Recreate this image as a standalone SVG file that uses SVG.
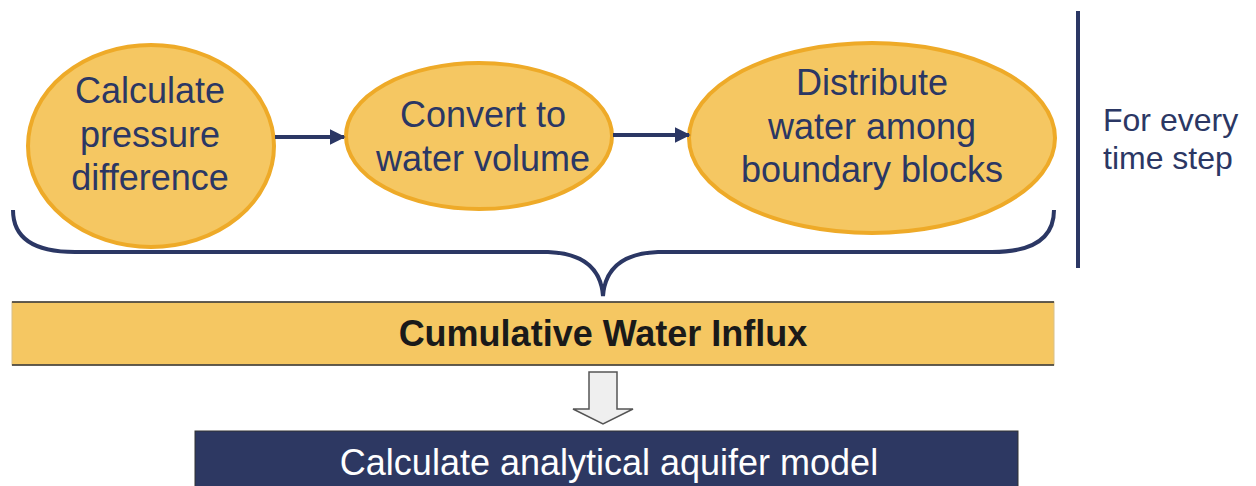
<svg xmlns="http://www.w3.org/2000/svg" width="1256" height="486" viewBox="0 0 1256 486">
<style>
.node{fill:#F5C762;stroke:#EEAA28;stroke-width:4}
.t{font-family:"Liberation Sans",Arial,sans-serif;font-size:36px;fill:#2B3764;text-anchor:middle}
.conn{stroke:#2B3764;stroke-width:4;fill:none}
</style>
<defs>
<marker id="ah" viewBox="0 0 10 10" refX="9" refY="5" markerWidth="4" markerHeight="4" orient="auto" markerUnits="strokeWidth">
<path d="M0,0 L10,5 L0,10 z" fill="#2B3764"/>
</marker>
</defs>
<rect width="1256" height="486" fill="#fff"/>
<g id="n1">
<ellipse class="node" cx="151" cy="146" rx="123" ry="101"/>
<text class="t" x="150" y="103">Calculate</text>
<text class="t" x="150" y="147">pressure</text>
<text class="t" x="150" y="190">difference</text>
</g>
<g id="n2">
<ellipse class="node" cx="479" cy="136" rx="133" ry="73"/>
<text class="t" x="483" y="127">Convert to</text>
<text class="t" x="483" y="171">water volume</text>
</g>
<g id="n3">
<ellipse class="node" cx="872" cy="138" rx="183" ry="95"/>
<text class="t" x="872" y="95">Distribute</text>
<text class="t" x="872" y="139">water among</text>
<text class="t" x="872" y="182">boundary blocks</text>
</g>
<g id="connectors">
<line class="conn" x1="275" y1="137" x2="344" y2="137" stroke-width="3" marker-end="url(#ah)"/>
<line class="conn" x1="613" y1="135" x2="689" y2="135" stroke-width="3" marker-end="url(#ah)"/>
<path class="conn" stroke-width="3.5" d="M13,210 Q13,252 75,252 L548,252 Q600,254 603,296 Q606,254 658,252 L992,252 Q1054,252 1054,210"/>
<path d="M589,372 L617,372 L617,409 L633,409 L603,424 L573,409 L589,409 Z" fill="#EFEFEF" stroke="#555" stroke-width="1.5"/>
</g>
<g id="loop">
<line x1="1078" y1="11" x2="1078" y2="268" stroke="#2B3764" stroke-width="4"/>
<text x="1103" y="131" font-family="Liberation Sans,Arial,sans-serif" font-size="32" fill="#2B3764">For every</text>
<text x="1103" y="169" font-family="Liberation Sans,Arial,sans-serif" font-size="32" fill="#2B3764">time step</text>
</g>
<g id="influx">
<rect x="12" y="302" width="1042" height="63" fill="#F5C762" stroke="#d8c08a" stroke-width="1"/>
<line x1="12" y1="302" x2="1054" y2="302" stroke="#333" stroke-width="1.5"/>
<line x1="12" y1="365" x2="1054" y2="365" stroke="#333" stroke-width="1.5"/>
<text x="603" y="346" font-family="Liberation Sans,Arial,sans-serif" font-size="36" font-weight="bold" fill="#1a1a1a" text-anchor="middle">Cumulative Water Influx</text>
</g>
<g id="model">
<rect x="195" y="431" width="823" height="60" fill="#2D3862" stroke="#333" stroke-width="1"/>
<text x="609" y="475" font-family="Liberation Sans,Arial,sans-serif" font-size="36" fill="#fff" text-anchor="middle">Calculate analytical aquifer model</text>
</g>
</svg>
